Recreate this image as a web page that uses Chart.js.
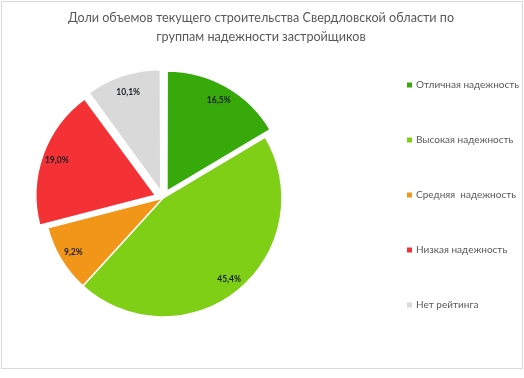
<!DOCTYPE html>
<html>
<head>
<meta charset="utf-8">
<script src="https://cdn.jsdelivr.net/npm/chart.js@4"></script>
<style>
    body { margin: 0; background: #fff; }
</style>
</head>
<body>
<canvas id="grafico" width="524" height="378"></canvas>
<script>
var categorias = ['Отличная надежность', 'Высокая надежность', 'Средняя  надежность', 'Низкая надежность', 'Нет рейтинга'];
var doles = [16.5, 45.4, 9.2, 19.0, 10.1];
var titulo = ['Доли объемов текущего строительства Свердловской области по', 'группам надежности застройщиков'];

var cores = ['#37a90b', '#7ecf15', '#f2961a', '#f43236', '#d9d9d9'];

// moldura cinza e titulo (o titulo fica centralizado na figura toda, nao so na area da pizza)
var moldura = {
    id: 'moldura',
    beforeDraw: function (chart) {
        var ctx = chart.ctx;
        ctx.save();
        ctx.fillStyle = '#fff';
        ctx.fillRect(0, 0, chart.width, chart.height);
        ctx.strokeStyle = '#d9d9d9';
        ctx.lineWidth = 1;
        ctx.strokeRect(1.5, 1.5, 521, 367);
        ctx.font = '12.6px Lato';
        ctx.fillStyle = '#595959';
        ctx.textAlign = 'center';
        ctx.textBaseline = 'middle';
        ctx.fillText(titulo[0], 261, 18);
        ctx.fillText(titulo[1], 261, 37);
        ctx.restore();
    }
};

// rotulos de porcentagem dentro das fatias
var rotulos = {
    id: 'rotulos',
    afterDatasetsDraw: function (chart) {
        var ctx = chart.ctx;
        var meta = chart.getDatasetMeta(0);
        ctx.save();
        ctx.font = 'bold 8.5px Lato';
        ctx.fillStyle = '#1a1f24';
        ctx.textAlign = 'center';
        ctx.textBaseline = 'middle';
        meta.data.forEach(function (arc, i) {
            var p = arc.getProps(['x', 'y', 'startAngle', 'endAngle', 'outerRadius']);
            var meio = (p.startAngle + p.endAngle) / 2;
            var dist = (arc.options.offset || 0) / 4 + p.outerRadius * 0.88;
            var texto = doles[i].toFixed(1).replace('.', ',') + '%';
            ctx.fillText(texto, p.x + Math.cos(meio) * dist, p.y + Math.sin(meio) * dist);
        });
        ctx.restore();
    }
};

// legenda desenhada a direita, um item por linha
var legenda = {
    id: 'legenda',
    afterDraw: function (chart) {
        var ctx = chart.ctx;
        ctx.save();
        ctx.font = '10px Lato';
        ctx.textBaseline = 'middle';
        ctx.textAlign = 'left';
        for (var i = 0; i < categorias.length; i++) {
            var y = 85 + i * 55;
            ctx.fillStyle = cores[i];
            ctx.fillRect(407, y - 2.5, 5, 5);
            ctx.fillStyle = '#595959';
            ctx.fillText(categorias[i], 416, y);
        }
        ctx.restore();
    }
};

var dadosPizza = {
    labels: categorias,
    datasets: [{
        data: doles,
        backgroundColor: cores,
        borderColor: '#ffffff',
        borderWidth: 1.5,
        offset: [32, 0, 0, 32, 28],
        radius: 119
    }]
};

var configPizza = {
    type: 'pie',
    data: dadosPizza,
    options: {
        responsive: false,
        animation: false,
        layout: {
            padding: { left: 10, right: 208, top: 56, bottom: 38 }
        },
        plugins: {
            legend: { display: false },
            tooltip: { enabled: false }
        }
    },
    plugins: [moldura, rotulos, legenda]
};

var graficoPizza = new Chart(document.getElementById('grafico'), configPizza);
</script>
</body>
</html>
